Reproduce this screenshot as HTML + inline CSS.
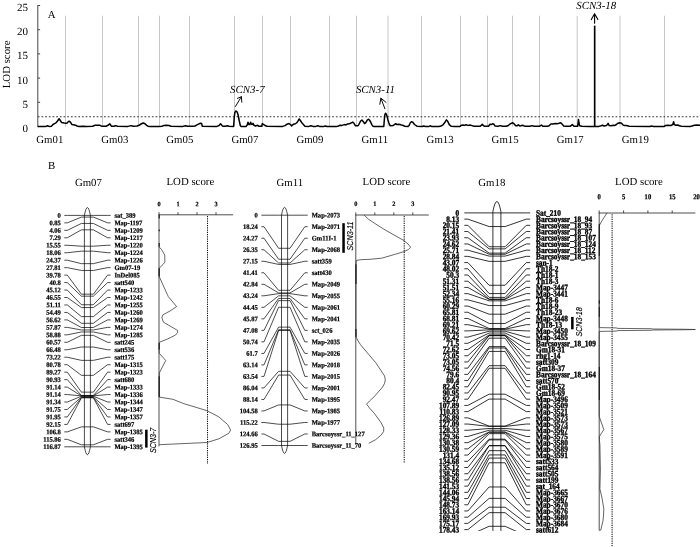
<!DOCTYPE html>
<html lang="en">
<head>
<meta charset="utf-8">
<title>QTL mapping of SCN resistance: LOD scan and linkage maps</title>
<style>
html,body{margin:0;padding:0;background:#fff;}
body{width:700px;height:547px;overflow:hidden;font-family:"Liberation Serif", serif;}
svg{display:block;will-change:transform;}
text{fill:#000;text-rendering:geometricPrecision;}
</style>
</head>
<body>
<svg width="700" height="547" viewBox="0 0 700 547">
<rect x="0" y="0" width="700" height="547" fill="#fff"/>
<g stroke="#b8b8b8" stroke-width="0.8" fill="none">
<line x1="65.5" y1="15.8" x2="65.5" y2="126.5"/>
<line x1="102.5" y1="15.8" x2="102.5" y2="126.5"/>
<line x1="138.5" y1="15.8" x2="138.5" y2="126.5"/>
<line x1="159.5" y1="15.8" x2="159.5" y2="126.5"/>
<line x1="189.5" y1="15.8" x2="189.5" y2="126.5"/>
<line x1="234.5" y1="15.8" x2="234.5" y2="126.5"/>
<line x1="262.5" y1="15.8" x2="262.5" y2="126.5"/>
<line x1="290.5" y1="15.8" x2="290.5" y2="126.5"/>
<line x1="329.5" y1="15.8" x2="329.5" y2="126.5"/>
<line x1="356.5" y1="15.8" x2="356.5" y2="126.5"/>
<line x1="388.0" y1="15.8" x2="388.0" y2="126.5"/>
<line x1="421.5" y1="15.8" x2="421.5" y2="126.5"/>
<line x1="460.5" y1="15.8" x2="460.5" y2="126.5"/>
<line x1="487.5" y1="15.8" x2="487.5" y2="126.5"/>
<line x1="512.5" y1="15.8" x2="512.5" y2="126.5"/>
<line x1="539.5" y1="15.8" x2="539.5" y2="126.5"/>
<line x1="577.2" y1="15.8" x2="577.2" y2="126.5"/>
<line x1="620.0" y1="15.8" x2="620.0" y2="126.5"/>
<line x1="664.5" y1="15.8" x2="664.5" y2="126.5"/>
</g>
<line x1="37.8" y1="116.75" x2="700" y2="116.75" stroke="#222" stroke-width="0.9" stroke-dasharray="1.75 1.93"/>
<line x1="37.8" y1="5.2" x2="37.8" y2="127.1" stroke="#333" stroke-width="0.9"/>
<line x1="37.8" y1="126.5" x2="40.099999999999994" y2="126.5" stroke="#333" stroke-width="0.9"/>
<text x="28.1" y="131.9" text-anchor="end" font-family='"Liberation Serif", serif' font-size="11">0</text>
<line x1="37.8" y1="102.3" x2="40.099999999999994" y2="102.3" stroke="#333" stroke-width="0.9"/>
<text x="28.1" y="107.7" text-anchor="end" font-family='"Liberation Serif", serif' font-size="11">5</text>
<line x1="37.8" y1="78.1" x2="40.099999999999994" y2="78.1" stroke="#333" stroke-width="0.9"/>
<text x="28.1" y="83.5" text-anchor="end" font-family='"Liberation Serif", serif' font-size="11">10</text>
<line x1="37.8" y1="53.9" x2="40.099999999999994" y2="53.9" stroke="#333" stroke-width="0.9"/>
<text x="28.1" y="59.3" text-anchor="end" font-family='"Liberation Serif", serif' font-size="11">15</text>
<line x1="37.8" y1="29.7" x2="40.099999999999994" y2="29.7" stroke="#333" stroke-width="0.9"/>
<text x="28.1" y="35.1" text-anchor="end" font-family='"Liberation Serif", serif' font-size="11">20</text>
<line x1="37.8" y1="5.5" x2="40.099999999999994" y2="5.5" stroke="#333" stroke-width="0.9"/>
<text x="28.1" y="10.9" text-anchor="end" font-family='"Liberation Serif", serif' font-size="11">25</text>
<text transform="translate(9.9,64.4) rotate(-90)" text-anchor="middle" font-family='"Liberation Serif", serif' font-size="10.8">LOD score</text>
<text x="47.7" y="18.2" font-family='"Liberation Serif", serif' font-size="10.8">A</text>
<text x="36.3" y="142.6" font-family='"Liberation Serif", serif' font-size="10.8">Gm01</text>
<text x="101.3" y="142.6" font-family='"Liberation Serif", serif' font-size="10.8">Gm03</text>
<text x="166.3" y="142.6" font-family='"Liberation Serif", serif' font-size="10.8">Gm05</text>
<text x="231.4" y="142.6" font-family='"Liberation Serif", serif' font-size="10.8">Gm07</text>
<text x="296.4" y="142.6" font-family='"Liberation Serif", serif' font-size="10.8">Gm09</text>
<text x="361.5" y="142.6" font-family='"Liberation Serif", serif' font-size="10.8">Gm11</text>
<text x="426.6" y="142.6" font-family='"Liberation Serif", serif' font-size="10.8">Gm13</text>
<text x="491.6" y="142.6" font-family='"Liberation Serif", serif' font-size="10.8">Gm15</text>
<text x="556.7" y="142.6" font-family='"Liberation Serif", serif' font-size="10.8">Gm17</text>
<text x="621.8" y="142.6" font-family='"Liberation Serif", serif' font-size="10.8">Gm19</text>
<polyline points="37.8,126.4 46,126.4 47.5,125.8 49,126.4 51.4,126.2 53,124.5 54.5,123.6 56,122.8 57.5,121 59.1,118.8 60.3,120.5 61.7,122.6 63,122.8 64.3,123.0 66.9,123.2 68,122 69,121.2 70.3,122 72,124.6 73.5,124.8 75.4,125.2 77,126 78.9,126.4 83,126.2 86,126.4 92.6,126.2 95,125.3 97,125.2 100,125.3 102,126.3 106,126.2 108.5,125 109.7,123.8 110.6,125 111.4,126.2 114,126.3 115.7,125.6 117.5,126.3 128,126.4 131,125.6 133,126.3 137,126 139,125.3 141,124 143.2,123 145,123.8 146.5,125.3 148,126.2 150,126.4 159,126.4 162,126.2 164,125.4 166.5,125.2 169,125.5 171,126.3 183,126.4 185.4,125.7 187.5,126.3 193,126.3 194.9,126 197,124.8 199,123.8 200.9,123.2 201.6,123.4 202.2,126.2 217,126.4 219,125.5 220.6,123.8 222,125.5 223,126.3 225.5,126.3 227.4,125.7 229,126.3 233.6,126.4 234.2,118 234.8,112.5 236,111 237.2,112 238.2,115.5 239.2,120.5 240.3,125.5 241,126.4 246,126.4 247.2,125 248,122.3 248.8,124.6 249.8,124.6 250.6,122.3 251.5,124.2 252.3,124.4 253,123.3 254,125.3 255.5,126 257.7,125.3 259,126.3 261.8,126.3 262.3,123.6 263.5,124.3 265,125.5 267,126.3 282.6,126.4 285,125.6 287,124.2 288.9,123.5 290.5,124.6 291.7,125.9 292.6,124.8 294,124 295.5,123.7 296.5,123 297.8,121.4 299.2,119 300.5,120.8 302.5,123.6 304.9,126.2 309,126.4 310.9,125.8 313,126.4 316,126.4 317.7,125.8 319.5,126.4 324,126.4 325.4,126 327,126.4 337,126.4 338.5,126 340,125.2 342,125.4 344.3,124.6 346,124.9 347.5,123.9 349.4,123.8 350.5,123.2 351.5,122.8 352.7,122.1 353.8,123 354.8,124.8 355.5,125.7 357.8,125.8 358.6,125 359.6,123 360.6,121 361.9,120.1 363.2,121.5 364.6,123.7 366,122.4 367.2,120.2 368.3,119.2 369.4,120 370.6,122 371.8,124.6 372.9,126.2 374,126.4 383.8,126.4 384.3,120 384.8,115 385.5,113.2 386.3,114 387.1,116.6 388,120 388.9,123 389.6,124.8 390.3,125.7 393,125.5 394.5,124.6 395.7,123.7 396.6,124.4 397.6,124.6 398.8,124.2 399.9,124.4 401.2,125 402.6,125.3 404.9,126.2 408,126.4 409.1,125.5 410.2,123 411.4,121.8 412.8,122.3 414.5,124.5 416.9,126.2 422,126.4 423.7,126 425.5,126.4 429,126.4 430.2,125.8 431.5,126.4 439,126.4 440.9,126 443,124.8 445,122.2 446.4,119.9 447.7,121.3 449.3,124.6 451.1,126.2 455,126.4 460,126.4 461.5,125.2 463,125 464.5,125.4 466,124.8 468,125.4 470,125 472,125.6 474,126.2 480,126.3 481.5,125.2 482.3,124.4 483.3,125.4 484.5,126.3 488.5,126.2 490,124.3 491.5,124.5 492.5,123.8 493.8,124.3 495.1,126 498,126.3 500.3,125.6 502.5,126.3 506,126.3 508,125.7 510,124 512.3,122.8 513.8,123.5 515.7,125.8 517,125.8 518.3,124.8 519.8,125.9 521,125.8 522.6,125.2 524.5,126.2 530,126.3 532,125.6 534,126.3 539.5,126.3 541.4,125 543,126.3 547.5,126.3 549.1,125.8 550.9,124 553,124 555,123.6 557,123.8 559,123.3 560.8,122.8 562,124 563.7,126 566,126.3 570,126.3 572.3,124.6 574,126.3 577.6,126.3 578.2,122 578.5,119.6 578.9,122.5 579.6,125.8 582,126.3 590,126.4 594.6,126.4 594.6,26.2 594.75,26.2 594.75,126.4 599,126.4 601,125.8 602.5,125.2 604,126 606.5,125.6 608.1,123.4 609.2,125.6 611,125.8 613.6,125.2 615,125.4 616.4,124.5 618,123.2 619.8,122.8 621.5,123.2 622.9,124.8 624.5,125.6 626,125.4 627.6,125.8 629,126.3 650,126.4 651.7,126 653,126.4 664.3,126.4 665.6,125.4 668,125.2 671.2,125.4 672.8,124.5 673.6,121.8 674.3,124.5 675.5,125.2 677.7,125 679.5,125.8 681.4,126.3 690,126.4 692,126 694.4,125.3 697,125 700,125.2" fill="none" stroke="#000" stroke-width="1.5" stroke-linejoin="round"/>
<text x="230.1" y="92.6" font-family='"Liberation Serif", serif' font-style="italic" font-size="10.9">SCN3-7</text>
<text x="355.9" y="92.9" font-family='"Liberation Serif", serif' font-style="italic" font-size="10.9">SCN3-11</text>
<text x="576.3" y="8.9" font-family='"Liberation Serif", serif' font-style="italic" font-size="10.9">SCN3-18</text>
<g stroke="#000" stroke-width="0.95" fill="none" stroke-linecap="round" stroke-linejoin="round">
<path d="M235.4 106.5 L241.4 96.7 M237.4 98.4 L241.4 96.7 L241.8 102.2"/>
<path d="M384.9 108.8 L380.9 98.2 M379.8 104.3 L380.9 98.2 L386.0 102.3"/>
<path d="M594.6 23.3 L594.6 13.9 M591.3 19.6 L594.6 13.7 L597.9 19.6" stroke-width="1.1"/>
</g>
<text x="48" y="169.2" font-family='"Liberation Serif", serif' font-size="10.8">B</text>
<text x="74.9" y="185.5" font-family='"Liberation Serif", serif' font-size="10.8">Gm07</text>
<path d="M84.4 446.8 L84.4 215.4 Q87.4 199.6 90.4 215.4 L90.4 446.8 Q87.4 462.6 84.4 446.8" fill="none" stroke="#000" stroke-width="0.7"/>
<path d="M64.3 215.40 L67.3 215.40 L81.4 215.40 L93.4 215.40 L107.6 215.40 L110.6 215.40 M64.3 222.86 L67.3 222.86 L81.4 217.08 L93.4 217.08 L107.6 222.86 L110.6 222.86 M64.3 230.33 L67.3 230.33 L81.4 223.44 L93.4 223.44 L107.6 230.33 L110.6 230.33 M64.3 237.79 L67.3 237.79 L81.4 229.83 L93.4 229.83 L107.6 237.79 L110.6 237.79 M64.3 245.26 L67.3 245.26 L81.4 246.19 L93.4 246.19 L107.6 245.26 L110.6 245.26 M64.3 252.72 L67.3 252.72 L81.4 251.16 L93.4 251.16 L107.6 252.72 L110.6 252.72 M64.3 260.19 L67.3 260.19 L81.4 263.65 L93.4 263.65 L107.6 260.19 L110.6 260.19 M64.3 267.65 L67.3 267.65 L81.4 270.46 L93.4 270.46 L107.6 267.65 L110.6 267.65 M64.3 275.12 L67.3 275.12 L81.4 294.16 L93.4 294.16 L107.6 275.12 L110.6 275.12 M64.3 282.58 L67.3 282.58 L81.4 296.18 L93.4 296.18 L107.6 282.58 L110.6 282.58 M64.3 290.05 L67.3 290.05 L81.4 304.74 L93.4 304.74 L107.6 290.05 L110.6 290.05 M64.3 297.51 L67.3 297.51 L81.4 307.57 L93.4 307.57 L107.6 297.51 L110.6 297.51 M64.3 304.97 L67.3 304.97 L81.4 316.60 L93.4 316.60 L107.6 304.97 L110.6 304.97 M64.3 312.44 L67.3 312.44 L81.4 323.29 L93.4 323.29 L107.6 312.44 L110.6 312.44 M64.3 319.90 L67.3 319.90 L81.4 327.51 L93.4 327.51 L107.6 319.90 L110.6 319.90 M64.3 327.37 L67.3 327.37 L81.4 329.98 L93.4 329.98 L107.6 327.37 L110.6 327.37 M64.3 334.83 L67.3 334.83 L81.4 331.98 L93.4 331.98 L107.6 334.83 L110.6 334.83 M64.3 342.30 L67.3 342.30 L81.4 335.33 L93.4 335.33 L107.6 342.30 L110.6 342.30 M64.3 349.76 L67.3 349.76 L81.4 347.03 L93.4 347.03 L107.6 349.76 L110.6 349.76 M64.3 357.23 L67.3 357.23 L81.4 360.37 L93.4 360.37 L107.6 357.23 L110.6 357.23 M64.3 364.69 L67.3 364.69 L81.4 375.34 L93.4 375.34 L107.6 364.69 L110.6 364.69 M64.3 372.15 L67.3 372.15 L81.4 392.15 L93.4 392.15 L107.6 372.15 L110.6 372.15 M64.3 379.62 L67.3 379.62 L81.4 395.44 L93.4 395.44 L107.6 379.62 L110.6 379.62 M64.3 387.08 L67.3 387.08 L81.4 395.86 L93.4 395.86 L107.6 387.08 L110.6 387.08 M64.3 394.55 L67.3 394.55 L81.4 395.86 L93.4 395.86 L107.6 394.55 L110.6 394.55 M64.3 402.01 L67.3 402.01 L81.4 396.25 L93.4 396.25 L107.6 402.01 L110.6 402.01 M64.3 409.48 L67.3 409.48 L81.4 397.06 L93.4 397.06 L107.6 409.48 L110.6 409.48 M64.3 416.94 L67.3 416.94 L81.4 397.46 L93.4 397.46 L107.6 416.94 L110.6 416.94 M64.3 424.41 L67.3 424.41 L81.4 397.85 L93.4 397.85 L107.6 424.41 L110.6 424.41 M64.3 431.87 L67.3 431.87 L81.4 426.86 L93.4 426.86 L107.6 431.87 L110.6 431.87 M64.3 439.34 L67.3 439.34 L81.4 444.80 L93.4 444.80 L107.6 439.34 L110.6 439.34 M64.3 446.80 L67.3 446.80 L81.4 446.80 L93.4 446.80 L107.6 446.80 L110.6 446.80" fill="none" stroke="#000" stroke-width="0.7" stroke-linejoin="round"/>
<g font-family='"Liberation Serif", serif' font-weight="bold" font-size="6.55" transform="scale(1,1.06)" stroke="#000" stroke-width="0.2">
<text x="60.9" y="205.40" transform="rotate(0.04 60.9 205.40)" text-anchor="end">0</text><text x="114.4" y="205.40" transform="rotate(0.04 114.4 205.40)">sat_389</text>
<text x="60.9" y="212.44" transform="rotate(0.04 60.9 212.44)" text-anchor="end">0.85</text><text x="114.4" y="212.44" transform="rotate(0.04 114.4 212.44)">Map-1197</text>
<text x="60.9" y="219.49" transform="rotate(0.04 60.9 219.49)" text-anchor="end">4.06</text><text x="114.4" y="219.49" transform="rotate(0.04 114.4 219.49)">Map-1209</text>
<text x="60.9" y="226.53" transform="rotate(0.04 60.9 226.53)" text-anchor="end">7.29</text><text x="114.4" y="226.53" transform="rotate(0.04 114.4 226.53)">Map-1217</text>
<text x="60.9" y="233.57" transform="rotate(0.04 60.9 233.57)" text-anchor="end">15.55</text><text x="114.4" y="233.57" transform="rotate(0.04 114.4 233.57)">Map-1220</text>
<text x="60.9" y="240.61" transform="rotate(0.04 60.9 240.61)" text-anchor="end">18.06</text><text x="114.4" y="240.61" transform="rotate(0.04 114.4 240.61)">Map-1224</text>
<text x="60.9" y="247.65" transform="rotate(0.04 60.9 247.65)" text-anchor="end">24.37</text><text x="114.4" y="247.65" transform="rotate(0.04 114.4 247.65)">Map-1226</text>
<text x="60.9" y="254.70" transform="rotate(0.04 60.9 254.70)" text-anchor="end">27.81</text><text x="114.4" y="254.70" transform="rotate(0.04 114.4 254.70)">Gm07-19</text>
<text x="60.9" y="261.74" transform="rotate(0.04 60.9 261.74)" text-anchor="end">39.78</text><text x="114.4" y="261.74" transform="rotate(0.04 114.4 261.74)">InDel085</text>
<text x="60.9" y="268.78" transform="rotate(0.04 60.9 268.78)" text-anchor="end">40.8</text><text x="114.4" y="268.78" transform="rotate(0.04 114.4 268.78)">satt540</text>
<text x="60.9" y="275.82" transform="rotate(0.04 60.9 275.82)" text-anchor="end">45.12</text><text x="114.4" y="275.82" transform="rotate(0.04 114.4 275.82)">Map-1233</text>
<text x="60.9" y="282.86" transform="rotate(0.04 60.9 282.86)" text-anchor="end">46.55</text><text x="114.4" y="282.86" transform="rotate(0.04 114.4 282.86)">Map-1242</text>
<text x="60.9" y="289.91" transform="rotate(0.04 60.9 289.91)" text-anchor="end">51.11</text><text x="114.4" y="289.91" transform="rotate(0.04 114.4 289.91)">Map-1255</text>
<text x="60.9" y="296.95" transform="rotate(0.04 60.9 296.95)" text-anchor="end">54.49</text><text x="114.4" y="296.95" transform="rotate(0.04 114.4 296.95)">Map-1260</text>
<text x="60.9" y="303.99" transform="rotate(0.04 60.9 303.99)" text-anchor="end">56.62</text><text x="114.4" y="303.99" transform="rotate(0.04 114.4 303.99)">Map-1269</text>
<text x="60.9" y="311.03" transform="rotate(0.04 60.9 311.03)" text-anchor="end">57.87</text><text x="114.4" y="311.03" transform="rotate(0.04 114.4 311.03)">Map-1274</text>
<text x="60.9" y="318.07" transform="rotate(0.04 60.9 318.07)" text-anchor="end">58.88</text><text x="114.4" y="318.07" transform="rotate(0.04 114.4 318.07)">Map-1285</text>
<text x="60.9" y="325.12" transform="rotate(0.04 60.9 325.12)" text-anchor="end">60.57</text><text x="114.4" y="325.12" transform="rotate(0.04 114.4 325.12)">satt245</text>
<text x="60.9" y="332.16" transform="rotate(0.04 60.9 332.16)" text-anchor="end">66.48</text><text x="114.4" y="332.16" transform="rotate(0.04 114.4 332.16)">satt536</text>
<text x="60.9" y="339.20" transform="rotate(0.04 60.9 339.20)" text-anchor="end">73.22</text><text x="114.4" y="339.20" transform="rotate(0.04 114.4 339.20)">satt175</text>
<text x="60.9" y="346.24" transform="rotate(0.04 60.9 346.24)" text-anchor="end">80.78</text><text x="114.4" y="346.24" transform="rotate(0.04 114.4 346.24)">Map-1315</text>
<text x="60.9" y="353.28" transform="rotate(0.04 60.9 353.28)" text-anchor="end">89.27</text><text x="114.4" y="353.28" transform="rotate(0.04 114.4 353.28)">Map-1323</text>
<text x="60.9" y="360.33" transform="rotate(0.04 60.9 360.33)" text-anchor="end">90.93</text><text x="114.4" y="360.33" transform="rotate(0.04 114.4 360.33)">satt680</text>
<text x="60.9" y="367.37" transform="rotate(0.04 60.9 367.37)" text-anchor="end">91.14</text><text x="114.4" y="367.37" transform="rotate(0.04 114.4 367.37)">Map-1333</text>
<text x="60.9" y="374.41" transform="rotate(0.04 60.9 374.41)" text-anchor="end">91.14</text><text x="114.4" y="374.41" transform="rotate(0.04 114.4 374.41)">Map-1336</text>
<text x="60.9" y="381.45" transform="rotate(0.04 60.9 381.45)" text-anchor="end">91.34</text><text x="114.4" y="381.45" transform="rotate(0.04 114.4 381.45)">Map-1344</text>
<text x="60.9" y="388.49" transform="rotate(0.04 60.9 388.49)" text-anchor="end">91.75</text><text x="114.4" y="388.49" transform="rotate(0.04 114.4 388.49)">Map-1347</text>
<text x="60.9" y="395.54" transform="rotate(0.04 60.9 395.54)" text-anchor="end">91.95</text><text x="114.4" y="395.54" transform="rotate(0.04 114.4 395.54)">Map-1357</text>
<text x="60.9" y="402.58" transform="rotate(0.04 60.9 402.58)" text-anchor="end">92.15</text><text x="114.4" y="402.58" transform="rotate(0.04 114.4 402.58)">satt697</text>
<text x="60.9" y="409.62" transform="rotate(0.04 60.9 409.62)" text-anchor="end">106.8</text><text x="114.4" y="409.62" transform="rotate(0.04 114.4 409.62)">Map-1385</text>
<text x="60.9" y="416.66" transform="rotate(0.04 60.9 416.66)" text-anchor="end">115.86</text><text x="114.4" y="416.66" transform="rotate(0.04 114.4 416.66)">satt346</text>
<text x="60.9" y="423.70" transform="rotate(0.04 60.9 423.70)" text-anchor="end">116.87</text><text x="114.4" y="423.70" transform="rotate(0.04 114.4 423.70)">Map-1395</text>
</g>
<text x="276.5" y="185.5" font-family='"Liberation Serif", serif' font-size="10.8">Gm11</text>
<path d="M281.5 445.5 L281.5 215.2 Q284.55 199.4 287.6 215.2 L287.6 445.5 Q284.55 461.3 281.5 445.5" fill="none" stroke="#000" stroke-width="0.7"/>
<path d="M261.4 215.20 L264.0 215.20 L278.6 215.20 L290.0 215.20 L304.8 215.20 L307.7 215.20 M261.4 226.71 L264.0 226.71 L278.6 248.29 L290.0 248.29 L304.8 226.71 L307.7 226.71 M261.4 238.23 L264.0 238.23 L278.6 259.23 L290.0 259.23 L304.8 238.23 L307.7 238.23 M261.4 249.75 L264.0 249.75 L278.6 263.00 L290.0 263.00 L304.8 249.75 L307.7 249.75 M261.4 261.26 L264.0 261.26 L278.6 264.45 L290.0 264.45 L304.8 261.26 L307.7 261.26 M261.4 272.77 L264.0 272.77 L278.6 290.32 L290.0 290.32 L304.8 272.77 L307.7 272.77 M261.4 284.29 L264.0 284.29 L278.6 292.92 L290.0 292.92 L304.8 284.29 L307.7 284.29 M261.4 295.81 L264.0 295.81 L278.6 293.64 L290.0 293.64 L304.8 295.81 L307.7 295.81 M261.4 307.32 L264.0 307.32 L278.6 295.84 L290.0 295.84 L304.8 307.32 L307.7 307.32 M261.4 318.83 L264.0 318.83 L278.6 298.41 L290.0 298.41 L304.8 318.83 L307.7 318.83 M261.4 330.35 L264.0 330.35 L278.6 300.61 L290.0 300.61 L304.8 330.35 L307.7 330.35 M261.4 341.87 L264.0 341.87 L278.6 307.25 L290.0 307.25 L304.8 341.87 L307.7 341.87 M261.4 353.38 L264.0 353.38 L278.6 327.13 L290.0 327.13 L304.8 353.38 L307.7 353.38 M261.4 364.89 L264.0 364.89 L278.6 329.74 L290.0 329.74 L304.8 364.89 L307.7 364.89 M261.4 376.41 L264.0 376.41 L278.6 330.47 L290.0 330.47 L304.8 376.41 L307.7 376.41 M261.4 387.93 L264.0 387.93 L278.6 371.29 L290.0 371.29 L304.8 387.93 L307.7 387.93 M261.4 399.44 L264.0 399.44 L278.6 375.09 L290.0 375.09 L304.8 399.44 L307.7 399.44 M261.4 410.95 L264.0 410.95 L278.6 404.92 L290.0 404.92 L304.8 410.95 L307.7 410.95 M261.4 422.47 L264.0 422.47 L278.6 424.22 L290.0 424.22 L304.8 422.47 L307.7 422.47 M261.4 433.99 L264.0 433.99 L278.6 441.35 L290.0 441.35 L304.8 433.99 L307.7 433.99 M261.4 445.50 L264.0 445.50 L278.6 445.50 L290.0 445.50 L304.8 445.50 L307.7 445.50" fill="none" stroke="#000" stroke-width="0.7" stroke-linejoin="round"/>
<g font-family='"Liberation Serif", serif' font-weight="bold" font-size="6.55" transform="scale(1,1.06)" stroke="#000" stroke-width="0.2">
<text x="257.7" y="205.21" transform="rotate(0.04 257.7 205.21)" text-anchor="end">0</text><text x="311.7" y="205.21" transform="rotate(0.04 311.7 205.21)">Map-2073</text>
<text x="257.7" y="216.08" transform="rotate(0.04 257.7 216.08)" text-anchor="end">18.24</text><text x="311.7" y="216.08" transform="rotate(0.04 311.7 216.08)">Map-2071</text>
<text x="257.7" y="226.94" transform="rotate(0.04 257.7 226.94)" text-anchor="end">24.27</text><text x="311.7" y="226.94" transform="rotate(0.04 311.7 226.94)">Gm11I-1</text>
<text x="257.7" y="237.80" transform="rotate(0.04 257.7 237.80)" text-anchor="end">26.35</text><text x="311.7" y="237.80" transform="rotate(0.04 311.7 237.80)">Map-2068</text>
<text x="257.7" y="248.67" transform="rotate(0.04 257.7 248.67)" text-anchor="end">27.15</text><text x="311.7" y="248.67" transform="rotate(0.04 311.7 248.67)">satt359</text>
<text x="257.7" y="259.53" transform="rotate(0.04 257.7 259.53)" text-anchor="end">41.41</text><text x="311.7" y="259.53" transform="rotate(0.04 311.7 259.53)">satt430</text>
<text x="257.7" y="270.39" transform="rotate(0.04 257.7 270.39)" text-anchor="end">42.84</text><text x="311.7" y="270.39" transform="rotate(0.04 311.7 270.39)">Map-2049</text>
<text x="257.7" y="281.26" transform="rotate(0.04 257.7 281.26)" text-anchor="end">43.24</text><text x="311.7" y="281.26" transform="rotate(0.04 311.7 281.26)">Map-2055</text>
<text x="257.7" y="292.12" transform="rotate(0.04 257.7 292.12)" text-anchor="end">44.45</text><text x="311.7" y="292.12" transform="rotate(0.04 311.7 292.12)">Map-2061</text>
<text x="257.7" y="302.98" transform="rotate(0.04 257.7 302.98)" text-anchor="end">45.87</text><text x="311.7" y="302.98" transform="rotate(0.04 311.7 302.98)">Map-2041</text>
<text x="257.7" y="313.85" transform="rotate(0.04 257.7 313.85)" text-anchor="end">47.08</text><text x="311.7" y="313.85" transform="rotate(0.04 311.7 313.85)">sct_026</text>
<text x="257.7" y="324.71" transform="rotate(0.04 257.7 324.71)" text-anchor="end">50.74</text><text x="311.7" y="324.71" transform="rotate(0.04 311.7 324.71)">Map-2035</text>
<text x="257.7" y="335.57" transform="rotate(0.04 257.7 335.57)" text-anchor="end">61.7</text><text x="311.7" y="335.57" transform="rotate(0.04 311.7 335.57)">Map-2026</text>
<text x="257.7" y="346.43" transform="rotate(0.04 257.7 346.43)" text-anchor="end">63.14</text><text x="311.7" y="346.43" transform="rotate(0.04 311.7 346.43)">Map-2018</text>
<text x="257.7" y="357.30" transform="rotate(0.04 257.7 357.30)" text-anchor="end">63.54</text><text x="311.7" y="357.30" transform="rotate(0.04 311.7 357.30)">Map-2015</text>
<text x="257.7" y="368.16" transform="rotate(0.04 257.7 368.16)" text-anchor="end">86.04</text><text x="311.7" y="368.16" transform="rotate(0.04 311.7 368.16)">Map-2001</text>
<text x="257.7" y="379.02" transform="rotate(0.04 257.7 379.02)" text-anchor="end">88.14</text><text x="311.7" y="379.02" transform="rotate(0.04 311.7 379.02)">Map-1995</text>
<text x="257.7" y="389.89" transform="rotate(0.04 257.7 389.89)" text-anchor="end">104.58</text><text x="311.7" y="389.89" transform="rotate(0.04 311.7 389.89)">Map-1985</text>
<text x="257.7" y="400.75" transform="rotate(0.04 257.7 400.75)" text-anchor="end">115.22</text><text x="311.7" y="400.75" transform="rotate(0.04 311.7 400.75)">Map-1977</text>
<text x="257.7" y="411.61" transform="rotate(0.04 257.7 411.61)" text-anchor="end">124.66</text><text x="311.7" y="411.61" transform="rotate(0.04 311.7 411.61)">Barcsoyssr_11_127</text>
<text x="257.7" y="422.48" transform="rotate(0.04 257.7 422.48)" text-anchor="end">126.95</text><text x="311.7" y="422.48" transform="rotate(0.04 311.7 422.48)">Barcsoyssr_11_70</text>
</g>
<text x="478.3" y="185.5" font-family='"Liberation Serif", serif' font-size="10.8">Gm18</text>
<path d="M492.9 561.5 L492.9 211.4 Q496.9 191.6 500.9 211.4 L500.9 561.5 Q496.9 581.3 492.9 561.5" fill="none" stroke="#000" stroke-width="0.8"/>
<path d="M464.3 212.90 L467.9 212.90 L489.1 212.90 L505.1 212.90 L526.3 212.90 L530.2 212.90 M464.3 219.11 L467.9 219.11 L489.1 226.56 L505.1 226.56 L526.3 219.11 L530.2 219.11 M464.3 225.32 L467.9 225.32 L489.1 246.75 L505.1 246.75 L526.3 225.32 L530.2 225.32 M464.3 231.53 L467.9 231.53 L489.1 248.87 L505.1 248.87 L526.3 231.53 L530.2 231.53 M464.3 237.74 L467.9 237.74 L489.1 253.10 L505.1 253.10 L526.3 237.74 L530.2 237.74 M464.3 243.95 L467.9 243.95 L489.1 254.26 L505.1 254.26 L526.3 243.95 L530.2 243.95 M464.3 250.16 L467.9 250.16 L489.1 256.09 L505.1 256.09 L526.3 250.16 L530.2 250.16 M464.3 256.37 L467.9 256.37 L489.1 261.35 L505.1 261.35 L526.3 256.37 L530.2 256.37 M464.3 262.58 L467.9 262.58 L489.1 285.26 L505.1 285.26 L526.3 262.58 L530.2 262.58 M464.3 268.79 L467.9 268.79 L489.1 293.57 L505.1 293.57 L526.3 268.79 L530.2 268.79 M464.3 275.00 L467.9 275.00 L489.1 297.40 L505.1 297.40 L526.3 275.00 L530.2 275.00 M464.3 281.21 L467.9 281.21 L489.1 299.10 L505.1 299.10 L526.3 281.21 L530.2 281.21 M464.3 287.42 L467.9 287.42 L489.1 299.44 L505.1 299.44 L526.3 287.42 L530.2 287.42 M464.3 293.63 L467.9 293.63 L489.1 300.83 L505.1 300.83 L526.3 293.63 L530.2 293.63 M464.3 299.84 L467.9 299.84 L489.1 305.57 L505.1 305.57 L526.3 299.84 L530.2 299.84 M464.3 306.05 L467.9 306.05 L489.1 314.19 L505.1 314.19 L526.3 306.05 L530.2 306.05 M464.3 312.26 L467.9 312.26 L489.1 323.46 L505.1 323.46 L526.3 312.26 L530.2 312.26 M464.3 318.47 L467.9 318.47 L489.1 328.50 L505.1 328.50 L526.3 318.47 L530.2 318.47 M464.3 324.68 L467.9 324.68 L489.1 329.17 L505.1 329.17 L526.3 324.68 L530.2 324.68 M464.3 330.89 L467.9 330.89 L489.1 329.86 L505.1 329.86 L526.3 330.89 L530.2 330.89 M464.3 337.10 L467.9 337.10 L489.1 331.21 L505.1 331.21 L526.3 337.10 L530.2 337.10 M464.3 343.31 L467.9 343.31 L489.1 333.02 L505.1 333.02 L526.3 343.31 L530.2 343.31 M464.3 349.52 L467.9 349.52 L489.1 334.90 L505.1 334.90 L526.3 349.52 L530.2 349.52 M464.3 355.73 L467.9 355.73 L489.1 335.62 L505.1 335.62 L526.3 355.73 L530.2 355.73 M464.3 361.94 L467.9 361.94 L489.1 335.62 L505.1 335.62 L526.3 361.94 L530.2 361.94 M464.3 368.15 L467.9 368.15 L489.1 338.16 L505.1 338.16 L526.3 368.15 L530.2 368.15 M464.3 374.36 L467.9 374.36 L489.1 346.63 L505.1 346.63 L526.3 374.36 L530.2 374.36 M464.3 380.57 L467.9 380.57 L489.1 347.97 L505.1 347.97 L526.3 380.57 L530.2 380.57 M464.3 386.78 L467.9 386.78 L489.1 351.42 L505.1 351.42 L526.3 386.78 L530.2 386.78 M464.3 392.99 L467.9 392.99 L489.1 365.70 L505.1 365.70 L526.3 392.99 L530.2 392.99 M464.3 399.20 L467.9 399.20 L489.1 368.25 L505.1 368.25 L526.3 399.20 L530.2 399.20 M464.3 405.41 L467.9 405.41 L489.1 394.16 L505.1 394.16 L526.3 405.41 L530.2 405.41 M464.3 411.62 L467.9 411.62 L489.1 399.09 L505.1 399.09 L526.3 411.62 L530.2 411.62 M464.3 417.83 L467.9 417.83 L489.1 426.08 L505.1 426.08 L526.3 417.83 L530.2 417.83 M464.3 424.04 L467.9 424.04 L489.1 426.41 L505.1 426.41 L526.3 424.04 L530.2 424.04 M464.3 430.25 L467.9 430.25 L489.1 428.49 L505.1 428.49 L526.3 430.25 L530.2 430.25 M464.3 436.46 L467.9 436.46 L489.1 430.22 L505.1 430.22 L526.3 436.46 L530.2 436.46 M464.3 442.67 L467.9 442.67 L489.1 431.94 L505.1 431.94 L526.3 442.67 L530.2 442.67 M464.3 448.88 L467.9 448.88 L489.1 432.29 L505.1 432.29 L526.3 448.88 L530.2 448.88 M464.3 455.09 L467.9 455.09 L489.1 433.65 L505.1 433.65 L526.3 455.09 L530.2 455.09 M464.3 461.30 L467.9 461.30 L489.1 439.16 L505.1 439.16 L526.3 461.30 L530.2 461.30 M464.3 467.51 L467.9 467.51 L489.1 439.90 L505.1 439.90 L526.3 467.51 L530.2 467.51 M464.3 473.72 L467.9 473.72 L489.1 445.68 L505.1 445.68 L526.3 473.72 L530.2 473.72 M464.3 479.93 L467.9 479.93 L489.1 445.68 L505.1 445.68 L526.3 479.93 L530.2 479.93 M464.3 486.14 L467.9 486.14 L489.1 450.67 L505.1 450.67 L526.3 486.14 L530.2 486.14 M464.3 492.35 L467.9 492.35 L489.1 454.92 L505.1 454.92 L526.3 492.35 L530.2 492.35 M464.3 498.56 L467.9 498.56 L489.1 458.08 L505.1 458.08 L526.3 498.56 L530.2 498.56 M464.3 504.77 L467.9 504.77 L489.1 462.77 L505.1 462.77 L526.3 504.77 L530.2 504.77 M464.3 510.98 L467.9 510.98 L489.1 486.98 L505.1 486.98 L526.3 510.98 L530.2 510.98 M464.3 517.19 L467.9 517.19 L489.1 498.38 L505.1 498.38 L526.3 517.19 L530.2 517.19 M464.3 523.40 L467.9 523.40 L489.1 507.19 L505.1 507.19 L526.3 523.40 L530.2 523.40 M464.3 529.61 L467.9 529.61 L489.1 512.66 L505.1 512.66 L526.3 529.61 L530.2 529.61 M464.3 535.82 L467.9 535.82 L489.1 526.30 L505.1 526.30 L526.3 535.82 L530.2 535.82" fill="none" stroke="#000" stroke-width="0.8" stroke-linejoin="round"/>
<rect x="420" y="530.9" width="175" height="20" fill="#fff"/>
<g font-family='"Liberation Serif", serif' font-weight="bold" font-size="7.35" transform="scale(1,1.15)" stroke="#000" stroke-width="0.32">
<text x="459.2" y="187.59" transform="rotate(0.04 459.2 187.59)" text-anchor="end">0</text><text x="536.0" y="187.59" transform="rotate(0.04 536.0 187.59)">Sat_210</text>
<text x="459.2" y="192.99" transform="rotate(0.04 459.2 192.99)" text-anchor="end">8.13</text><text x="536.0" y="192.99" transform="rotate(0.04 536.0 192.99)">Barcsoyssr_18_94</text>
<text x="459.2" y="198.39" transform="rotate(0.04 459.2 198.39)" text-anchor="end">20.15</text><text x="536.0" y="198.39" transform="rotate(0.04 536.0 198.39)">Barcsoyssr_18_93</text>
<text x="459.2" y="203.79" transform="rotate(0.04 459.2 203.79)" text-anchor="end">21.41</text><text x="536.0" y="203.79" transform="rotate(0.04 536.0 203.79)">Barcsoyssr_18_87</text>
<text x="459.2" y="209.19" transform="rotate(0.04 459.2 209.19)" text-anchor="end">23.93</text><text x="536.0" y="209.19" transform="rotate(0.04 536.0 209.19)">Barcsoyssr_18_107</text>
<text x="459.2" y="214.59" transform="rotate(0.04 459.2 214.59)" text-anchor="end">24.62</text><text x="536.0" y="214.59" transform="rotate(0.04 536.0 214.59)">Barcsoyssr_18_124</text>
<text x="459.2" y="219.99" transform="rotate(0.04 459.2 219.99)" text-anchor="end">25.71</text><text x="536.0" y="219.99" transform="rotate(0.04 536.0 219.99)">Barcsoyssr_18_112</text>
<text x="459.2" y="225.39" transform="rotate(0.04 459.2 225.39)" text-anchor="end">28.84</text><text x="536.0" y="225.39" transform="rotate(0.04 536.0 225.39)">Barcsoyssr_18_153</text>
<text x="459.2" y="230.79" transform="rotate(0.04 459.2 230.79)" text-anchor="end">43.07</text><text x="536.0" y="230.79" transform="rotate(0.04 536.0 230.79)">san-1</text>
<text x="459.2" y="236.19" transform="rotate(0.04 459.2 236.19)" text-anchor="end">48.02</text><text x="536.0" y="236.19" transform="rotate(0.04 536.0 236.19)">Th18-2</text>
<text x="459.2" y="241.59" transform="rotate(0.04 459.2 241.59)" text-anchor="end">50.3</text><text x="536.0" y="241.59" transform="rotate(0.04 536.0 241.59)">Th18-1</text>
<text x="459.2" y="246.99" transform="rotate(0.04 459.2 246.99)" text-anchor="end">51.31</text><text x="536.0" y="246.99" transform="rotate(0.04 536.0 246.99)">Th18-3</text>
<text x="459.2" y="252.39" transform="rotate(0.04 459.2 252.39)" text-anchor="end">51.51</text><text x="536.0" y="252.39" transform="rotate(0.04 536.0 252.39)">Map-3447</text>
<text x="459.2" y="257.79" transform="rotate(0.04 459.2 257.79)" text-anchor="end">52.34</text><text x="536.0" y="257.79" transform="rotate(0.04 536.0 257.79)">Map-3441</text>
<text x="459.2" y="263.19" transform="rotate(0.04 459.2 263.19)" text-anchor="end">55.16</text><text x="536.0" y="263.19" transform="rotate(0.04 536.0 263.19)">Th18-6</text>
<text x="459.2" y="268.59" transform="rotate(0.04 459.2 268.59)" text-anchor="end">60.29</text><text x="536.0" y="268.59" transform="rotate(0.04 536.0 268.59)">Th18-9</text>
<text x="459.2" y="273.99" transform="rotate(0.04 459.2 273.99)" text-anchor="end">65.81</text><text x="536.0" y="273.99" transform="rotate(0.04 536.0 273.99)">Th18-23</text>
<text x="459.2" y="279.39" transform="rotate(0.04 459.2 279.39)" text-anchor="end">68.81</text><text x="536.0" y="279.39" transform="rotate(0.04 536.0 279.39)">Map-3448</text>
<text x="459.2" y="284.79" transform="rotate(0.04 459.2 284.79)" text-anchor="end">69.21</text><text x="536.0" y="284.79" transform="rotate(0.04 536.0 284.79)">Th18-13</text>
<text x="459.2" y="290.19" transform="rotate(0.04 459.2 290.19)" text-anchor="end">69.62</text><text x="536.0" y="290.19" transform="rotate(0.04 536.0 290.19)">Map-3450</text>
<text x="459.2" y="295.59" transform="rotate(0.04 459.2 295.59)" text-anchor="end">70.42</text><text x="536.0" y="295.59" transform="rotate(0.04 536.0 295.59)">Map-3455</text>
<text x="459.2" y="300.99" transform="rotate(0.04 459.2 300.99)" text-anchor="end">71.5</text><text x="536.0" y="300.99" transform="rotate(0.04 536.0 300.99)">Barcsoyssr_18_109</text>
<text x="459.2" y="306.39" transform="rotate(0.04 459.2 306.39)" text-anchor="end">72.62</text><text x="536.0" y="306.39" transform="rotate(0.04 536.0 306.39)">Gm18-31</text>
<text x="459.2" y="311.79" transform="rotate(0.04 459.2 311.79)" text-anchor="end">73.05</text><text x="536.0" y="311.79" transform="rotate(0.04 536.0 311.79)">rhg1-14</text>
<text x="459.2" y="317.19" transform="rotate(0.04 459.2 317.19)" text-anchor="end">73.05</text><text x="536.0" y="317.19" transform="rotate(0.04 536.0 317.19)">satt309</text>
<text x="459.2" y="322.59" transform="rotate(0.04 459.2 322.59)" text-anchor="end">74.56</text><text x="536.0" y="322.59" transform="rotate(0.04 536.0 322.59)">Gm18-37</text>
<text x="459.2" y="327.99" transform="rotate(0.04 459.2 327.99)" text-anchor="end">79.6</text><text x="536.0" y="327.99" transform="rotate(0.04 536.0 327.99)">Barcsoyssr_18_164</text>
<text x="459.2" y="333.39" transform="rotate(0.04 459.2 333.39)" text-anchor="end">80.4</text><text x="536.0" y="333.39" transform="rotate(0.04 536.0 333.39)">satt570</text>
<text x="459.2" y="338.79" transform="rotate(0.04 459.2 338.79)" text-anchor="end">82.45</text><text x="536.0" y="338.79" transform="rotate(0.04 536.0 338.79)">Gm18-52</text>
<text x="459.2" y="344.19" transform="rotate(0.04 459.2 344.19)" text-anchor="end">90.95</text><text x="536.0" y="344.19" transform="rotate(0.04 536.0 344.19)">Gm18-69</text>
<text x="459.2" y="349.59" transform="rotate(0.04 459.2 349.59)" text-anchor="end">92.47</text><text x="536.0" y="349.59" transform="rotate(0.04 536.0 349.59)">Map-3496</text>
<text x="459.2" y="354.99" transform="rotate(0.04 459.2 354.99)" text-anchor="end">107.89</text><text x="536.0" y="354.99" transform="rotate(0.04 536.0 354.99)">Map-3509</text>
<text x="459.2" y="360.39" transform="rotate(0.04 459.2 360.39)" text-anchor="end">110.83</text><text x="536.0" y="360.39" transform="rotate(0.04 536.0 360.39)">Map-3521</text>
<text x="459.2" y="365.79" transform="rotate(0.04 459.2 365.79)" text-anchor="end">126.89</text><text x="536.0" y="365.79" transform="rotate(0.04 536.0 365.79)">Map-3573</text>
<text x="459.2" y="371.19" transform="rotate(0.04 459.2 371.19)" text-anchor="end">127.09</text><text x="536.0" y="371.19" transform="rotate(0.04 536.0 371.19)">Map-3573</text>
<text x="459.2" y="376.59" transform="rotate(0.04 459.2 376.59)" text-anchor="end">128.33</text><text x="536.0" y="376.59" transform="rotate(0.04 536.0 376.59)">Map-3567</text>
<text x="459.2" y="381.99" transform="rotate(0.04 459.2 381.99)" text-anchor="end">129.36</text><text x="536.0" y="381.99" transform="rotate(0.04 536.0 381.99)">Map-3575</text>
<text x="459.2" y="387.39" transform="rotate(0.04 459.2 387.39)" text-anchor="end">130.38</text><text x="536.0" y="387.39" transform="rotate(0.04 536.0 387.39)">Map-3580</text>
<text x="459.2" y="392.79" transform="rotate(0.04 459.2 392.79)" text-anchor="end">130.59</text><text x="536.0" y="392.79" transform="rotate(0.04 536.0 392.79)">Map-3589</text>
<text x="459.2" y="398.19" transform="rotate(0.04 459.2 398.19)" text-anchor="end">131.4</text><text x="536.0" y="398.19" transform="rotate(0.04 536.0 398.19)">Map-3591</text>
<text x="459.2" y="403.59" transform="rotate(0.04 459.2 403.59)" text-anchor="end">134.68</text><text x="536.0" y="403.59" transform="rotate(0.04 536.0 403.59)">satt533</text>
<text x="459.2" y="408.99" transform="rotate(0.04 459.2 408.99)" text-anchor="end">135.12</text><text x="536.0" y="408.99" transform="rotate(0.04 536.0 408.99)">satt564</text>
<text x="459.2" y="414.39" transform="rotate(0.04 459.2 414.39)" text-anchor="end">138.56</text><text x="536.0" y="414.39" transform="rotate(0.04 536.0 414.39)">satt505</text>
<text x="459.2" y="419.79" transform="rotate(0.04 459.2 419.79)" text-anchor="end">138.56</text><text x="536.0" y="419.79" transform="rotate(0.04 536.0 419.79)">satt199</text>
<text x="459.2" y="425.19" transform="rotate(0.04 459.2 425.19)" text-anchor="end">141.53</text><text x="536.0" y="425.19" transform="rotate(0.04 536.0 425.19)">sat_164</text>
<text x="459.2" y="430.59" transform="rotate(0.04 459.2 430.59)" text-anchor="end">144.06</text><text x="536.0" y="430.59" transform="rotate(0.04 536.0 430.59)">Map-3665</text>
<text x="459.2" y="435.99" transform="rotate(0.04 459.2 435.99)" text-anchor="end">145.94</text><text x="536.0" y="435.99" transform="rotate(0.04 536.0 435.99)">Map-3667</text>
<text x="459.2" y="441.39" transform="rotate(0.04 459.2 441.39)" text-anchor="end">148.73</text><text x="536.0" y="441.39" transform="rotate(0.04 536.0 441.39)">Map-3670</text>
<text x="459.2" y="446.79" transform="rotate(0.04 459.2 446.79)" text-anchor="end">163.14</text><text x="536.0" y="446.79" transform="rotate(0.04 536.0 446.79)">Map-3676</text>
<text x="459.2" y="452.19" transform="rotate(0.04 459.2 452.19)" text-anchor="end">169.93</text><text x="536.0" y="452.19" transform="rotate(0.04 536.0 452.19)">Map-3680</text>
<text x="459.2" y="457.59" transform="rotate(0.04 459.2 457.59)" text-anchor="end">175.17</text><text x="536.0" y="457.59" transform="rotate(0.04 536.0 457.59)">Map-3684</text>
<text x="459.2" y="462.99" transform="rotate(0.04 459.2 462.99)" text-anchor="end">178.43</text><text x="536.0" y="462.99" transform="rotate(0.04 536.0 462.99)">satt612</text>
</g>
<text x="166.5" y="185.4" font-family='"Liberation Serif", serif' font-size="10.8">LOD score</text>
<g font-family='"Liberation Serif", serif' font-weight="bold" font-size="6.3" text-anchor="middle" stroke="#000" stroke-width="0.18" transform="scale(1,1.06)">
<text x="159.0" y="194.53" transform="rotate(0.04 159.0 194.53)">0</text>
<text x="178.0" y="194.53" transform="rotate(0.04 178.0 194.53)">1</text>
<text x="197.0" y="194.53" transform="rotate(0.04 197.0 194.53)">2</text>
<text x="216.0" y="194.53" transform="rotate(0.04 216.0 194.53)">3</text>
</g>
<path d="M158.5 214.8 L233.2 214.8 M159.0 212.20000000000002 L159.0 446.4 M178.0 212.20000000000002 L178.0 214.8 M197.0 212.20000000000002 L197.0 214.8 M216.0 212.20000000000002 L216.0 214.8" fill="none" stroke="#222" stroke-width="0.8"/>
<line x1="207.5" y1="216" x2="207.5" y2="464" stroke="#111" stroke-width="1.05" stroke-dasharray="1.25 1"/>
<polyline points="159,246.8 161.5,249.5 164.7,255 164.9,261.8 163,264.5 159.2,268.2 159.2,276.5 167.4,294.7 168.3,296.6 176.6,306.6 170,311 162.9,314.8 161.9,317.6 163.4,322.2 170,326 177.5,330.4 177.6,332.5 175.6,335 168,338.8 159.2,342.3 159.2,353.2 165.7,360.5 159.3,373 159.3,397.1 172.9,399.3 183.9,403.7 195,407 206.9,410.7 218.9,416.9 227.7,424.6 230.6,430 228.8,433.3 218.9,438.8 206.9,442.5 159.3,444.7" fill="none" stroke="#333" stroke-width="0.75" stroke-linejoin="round"/>
<line x1="159.2" y1="214.8" x2="159.2" y2="218.4" stroke="#222" stroke-width="1.25"/>
<line x1="159.2" y1="229.4" x2="159.2" y2="231.2" stroke="#222" stroke-width="1.25"/>
<line x1="159.2" y1="243" x2="159.2" y2="246.8" stroke="#222" stroke-width="1.25"/>
<line x1="159.2" y1="268.2" x2="159.2" y2="276.5" stroke="#222" stroke-width="1.25"/>
<line x1="159.2" y1="343" x2="159.2" y2="349.6" stroke="#222" stroke-width="1.25"/>
<line x1="159.2" y1="376.3" x2="159.2" y2="397.1" stroke="#222" stroke-width="1.25"/>
<text x="362.6" y="185.4" font-family='"Liberation Serif", serif' font-size="10.8">LOD score</text>
<g font-family='"Liberation Serif", serif' font-weight="bold" font-size="6.3" text-anchor="middle" stroke="#000" stroke-width="0.18" transform="scale(1,1.06)">
<text x="355.8" y="194.34" transform="rotate(0.04 355.8 194.34)">0</text>
<text x="374.8" y="194.34" transform="rotate(0.04 374.8 194.34)">1</text>
<text x="393.8" y="194.34" transform="rotate(0.04 393.8 194.34)">2</text>
<text x="412.8" y="194.34" transform="rotate(0.04 412.8 194.34)">3</text>
</g>
<path d="M355.3 215.0 L428.8 215.0 M355.8 212.4 L355.8 444.7 M374.8 212.4 L374.8 215.0 M393.8 212.4 L393.8 215.0 M412.8 212.4 L412.8 215.0" fill="none" stroke="#222" stroke-width="0.8"/>
<line x1="404.2" y1="216" x2="404.2" y2="463.5" stroke="#111" stroke-width="1.05" stroke-dasharray="1.25 1"/>
<polyline points="364.1,215 368.5,219.3 376,224.2 383.9,229.2 394,235 404,240.6 408,244 410.6,247.2 408.5,249.5 404,251.6 394.8,254.4 381.7,258.2 370,259.3 361.9,259.6 356.4,260.4 355.9,264.3 355.9,336.4 357.5,340 360.5,344.7 367.4,352.9 375.6,362.5 381.1,370.7 384.6,376 385.3,380 384.5,383.5 382.5,387.1 374.2,396.7 369.5,401 366.6,404.1 369.5,408 374.2,413.2 381.1,422.7 383.8,428 383.6,431.5 381.1,435.1 375.6,439.7 368.8,443.3" fill="none" stroke="#333" stroke-width="0.75" stroke-linejoin="round"/>
<line x1="356.0" y1="264.3" x2="356.0" y2="284" stroke="#222" stroke-width="1.25"/>
<line x1="356.0" y1="329" x2="356.0" y2="337" stroke="#222" stroke-width="1.25"/>
<text x="615.1" y="185.4" font-family='"Liberation Serif", serif' font-size="10.8">LOD score</text>
<g font-family='"Liberation Serif", serif' font-weight="bold" font-size="6.6" text-anchor="middle" stroke="#000" stroke-width="0.18" transform="scale(1,1.15)">
<text x="599.2" y="173.22" transform="rotate(0.04 599.2 173.22)">0</text>
<text x="623.6" y="173.22" transform="rotate(0.04 623.6 173.22)">5</text>
<text x="647.9" y="173.22" transform="rotate(0.04 647.9 173.22)">10</text>
<text x="672.2" y="173.22" transform="rotate(0.04 672.2 173.22)">15</text>
<text x="696.6" y="173.22" transform="rotate(0.04 696.6 173.22)">20</text>
</g>
<path d="M598.7 213.0 L695.4 213.0 M599.2 210.4 L599.2 530.3 M623.6 210.4 L623.6 213.0 M647.9 210.4 L647.9 213.0 M672.2 210.4 L672.2 213.0" fill="none" stroke="#222" stroke-width="0.8"/>
<line x1="612.1" y1="214.2" x2="612.1" y2="546.5" stroke="#111" stroke-width="1.05" stroke-dasharray="1.25 1"/>
<polyline points="607.1,212.9 603,219 599.2,225.7 599.2,327.6 616,327.9 618,328.4 651,328.7 652.5,329.0 684,329.25 695.4,329.5 684,329.75 652.5,330.0 651,330.3 618,330.6 616,331.1 599.2,331.4 599.2,416.4 601.5,423 603.8,429.6 601.3,433.5 599.2,437 599.9,445 600.4,470 599.9,488.9 602,498 603.8,508.7 603.6,514 603.1,520.2 600.8,530.1 599.2,530.5" fill="none" stroke="#333" stroke-width="0.75" stroke-linejoin="round"/>
<line x1="599.4000000000001" y1="224" x2="599.4000000000001" y2="256" stroke="#222" stroke-width="1.25"/>
<line x1="599.4000000000001" y1="300.4" x2="599.4000000000001" y2="303.7" stroke="#222" stroke-width="1.25"/>
<line x1="599.4000000000001" y1="307" x2="599.4000000000001" y2="316.9" stroke="#222" stroke-width="1.25"/>
<line x1="599.4000000000001" y1="367" x2="599.4000000000001" y2="400" stroke="#222" stroke-width="1.25"/>
<rect x="145.1" y="429.7" width="2.5" height="17.9" fill="#000"/>
<text transform="translate(156.4,440.4) rotate(-90) scale(1,1.2)" text-anchor="middle" font-family='"Liberation Sans", sans-serif' font-style="italic" font-size="7.15" stroke="#000" stroke-width="0.12">SCN3-7</text>
<rect x="342.3" y="223.2" width="2.5" height="29.6" fill="#000"/>
<text transform="translate(353.0,236.0) rotate(-90) scale(1,1.2)" text-anchor="middle" font-family='"Liberation Sans", sans-serif' font-style="italic" font-size="7.15" stroke="#000" stroke-width="0.12">SCN3-11</text>
<rect x="571.1" y="316.9" width="2.5" height="12.4" fill="#000"/>
<text transform="translate(581.6,321.9) rotate(-90) scale(1,1.2)" text-anchor="middle" font-family='"Liberation Sans", sans-serif' font-style="italic" font-size="7.15" stroke="#000" stroke-width="0.12">SCN3-18</text>
</svg>
</body>
</html>
